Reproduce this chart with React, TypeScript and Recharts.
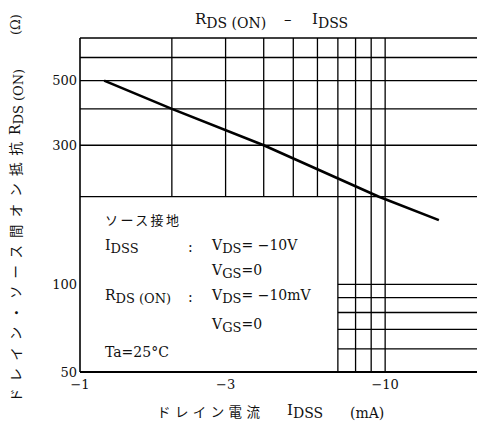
import React from 'react';
import { LineChart, Line, XAxis, YAxis, ReferenceLine } from 'recharts';

// I_DSS magnitude (mA), plotted as negative labels
const idssMagnitude = [1.2, 2, 4, 9.5, 15];
const rdsOn = [500, 400, 300, 200, 166];

const xTicks = [1, 3, 10];
const xTickLabels = ['\u22121', '\u22123', '\u221210'];
const yTicks = [50, 100, 300, 500];

const gridXFull = [7, 8, 9, 10];
const gridXUpper = [2, 3, 4, 5, 6];
const gridYFull = [200, 300, 400, 500, 600, 700];
const gridYRight = [60, 70, 80, 90, 100];

const data = idssMagnitude.map((x, i) => ({ x, r: rdsOn[i] }));

const SERIF = '"DejaVu Serif", "Liberation Serif", serif';
const CJK = '"Noto Sans CJK JP", "Noto Sans CJK SC", sans-serif';
const INK = '#111';

const W = 477;
const H = 426;

function Overlay() {
  return (
    <svg
      width={W}
      height={H}
      style={{ position: 'absolute', left: 0, top: 0, pointerEvents: 'none' }}
    >
      {/* Title */}
      <text x={195} y={24} fontFamily={SERIF} fontSize={15} fill={INK}>
        <tspan>R</tspan>
        <tspan dy={4} fontSize={14}>DS (ON)</tspan>
      </text>
      <text x={284} y={24} fontFamily={SERIF} fontSize={15} fill={INK}>
        {'\u2013'}
      </text>
      <text x={312} y={24} fontFamily={SERIF} fontSize={15} fill={INK}>
        <tspan>I</tspan>
        <tspan dy={4} fontSize={14}>DSS</tspan>
      </text>

      {/* Y axis label (rotated) */}
      <g transform="rotate(-90)">
        <text
          x={-402}
          y={21}
          fontFamily={CJK}
          fontSize={13.5}
          fill={INK}
          textLength={260}
          lengthAdjust="spacing"
        >
          ドレイン・ソース間オン抵抗
        </text>
        <text x={-135} y={20} fontFamily={SERIF} fontSize={14} fill={INK}>
          <tspan>R</tspan>
          <tspan dy={3} fontSize={13}>DS (ON)</tspan>
        </text>
        <text x={-35} y={20} fontFamily={SERIF} fontSize={13} fill={INK}>
          (Ω)
        </text>
      </g>

      {/* X axis label */}
      <text
        x={157}
        y={417}
        fontFamily={CJK}
        fontSize={13.5}
        fill={INK}
        textLength={103}
        lengthAdjust="spacing"
      >
        ドレイン電流
      </text>
      <text x={287} y={415} fontFamily={SERIF} fontSize={15} fill={INK}>
        <tspan>I</tspan>
        <tspan dy={3} fontSize={14}>DSS</tspan>
      </text>
      <text x={350} y={418} fontFamily={SERIF} fontSize={14} fill={INK}>
        (mA)
      </text>

      {/* Condition box text */}
      <text
        x={105}
        y={225}
        fontFamily={CJK}
        fontSize={13}
        fill={INK}
        textLength={74}
        lengthAdjust="spacing"
      >
        ソース接地
      </text>

      <text x={105} y={250} fontFamily={SERIF} fontSize={14} fill={INK}>
        <tspan>I</tspan>
        <tspan dy={3} fontSize={13}>DSS</tspan>
      </text>
      <text x={188} y={252} fontFamily={SERIF} fontSize={14} fill={INK}>:</text>
      <text x={212} y={250} fontFamily={SERIF} fontSize={14} fill={INK}>
        <tspan>V</tspan>
        <tspan dy={3} fontSize={13}>DS</tspan>
        <tspan dy={-3}>{'= \u221210V'}</tspan>
      </text>
      <text x={212} y={275} fontFamily={SERIF} fontSize={14} fill={INK}>
        <tspan>V</tspan>
        <tspan dy={3} fontSize={13}>GS</tspan>
        <tspan dy={-3}>=0</tspan>
      </text>

      <text x={105} y={300} fontFamily={SERIF} fontSize={14} fill={INK}>
        <tspan>R</tspan>
        <tspan dy={3} fontSize={13}>DS (ON)</tspan>
      </text>
      <text x={188} y={302} fontFamily={SERIF} fontSize={14} fill={INK}>:</text>
      <text x={212} y={300} fontFamily={SERIF} fontSize={14} fill={INK}>
        <tspan>V</tspan>
        <tspan dy={3} fontSize={13}>DS</tspan>
        <tspan dy={-3}>{'= \u221210mV'}</tspan>
      </text>
      <text x={212} y={329} fontFamily={SERIF} fontSize={14} fill={INK}>
        <tspan>V</tspan>
        <tspan dy={3} fontSize={13}>GS</tspan>
        <tspan dy={-3}>=0</tspan>
      </text>

      <text x={105} y={357} fontFamily={SERIF} fontSize={14} fill={INK}>
        Ta=25°C
      </text>
    </svg>
  );
}

const gridStroke = { stroke: '#000', strokeWidth: 1.3 };

export default function App() {
  return (
    <div
      style={{
        position: 'absolute',
        left: 0,
        top: 0,
        width: W,
        height: H,
        background: '#fff',
      }}
    >
      <LineChart
        width={W}
        height={H}
        data={data}
        margin={{ top: 38, right: 0, bottom: 0, left: 0 }}
      >
        <XAxis
          dataKey="x"
          type="number"
          scale="log"
          domain={[1, 20]}
          ticks={xTicks}
          allowDataOverflow
          tickFormatter={(v: number) => xTickLabels[xTicks.indexOf(v)] ?? ''}
          height={54}
          axisLine={{ stroke: '#000', strokeWidth: 2 }}
          tickLine={false}
          tickSize={0}
          tickMargin={8}
          tick={{ fill: INK, fontSize: 13, fontFamily: SERIF }}
        />
        <YAxis
          type="number"
          scale="log"
          domain={[50, 700]}
          ticks={yTicks}
          allowDataOverflow
          width={80}
          axisLine={{ stroke: '#000', strokeWidth: 1.6 }}
          tickLine={false}
          tickSize={0}
          tickMargin={3}
          tick={{ fill: INK, fontSize: 13, fontFamily: SERIF }}
        />
        {gridYFull.map((v) => (
          <ReferenceLine
            key={'yf' + v}
            segment={[
              { x: 1, y: v },
              { x: 20, y: v },
            ]}
            {...gridStroke}
          />
        ))}
        {gridYRight.map((v) => (
          <ReferenceLine
            key={'yr' + v}
            segment={[
              { x: 7, y: v },
              { x: 20, y: v },
            ]}
            {...gridStroke}
          />
        ))}
        {gridXFull.map((v) => (
          <ReferenceLine
            key={'xf' + v}
            segment={[
              { x: v, y: 50 },
              { x: v, y: 700 },
            ]}
            {...gridStroke}
          />
        ))}
        {gridXUpper.map((v) => (
          <ReferenceLine
            key={'xu' + v}
            segment={[
              { x: v, y: 200 },
              { x: v, y: 700 },
            ]}
            {...gridStroke}
          />
        ))}
        <Line
          dataKey="r"
          stroke="#000"
          strokeWidth={2.6}
          dot={false}
          isAnimationActive={false}
        />
      </LineChart>
      <Overlay />
    </div>
  );
}
